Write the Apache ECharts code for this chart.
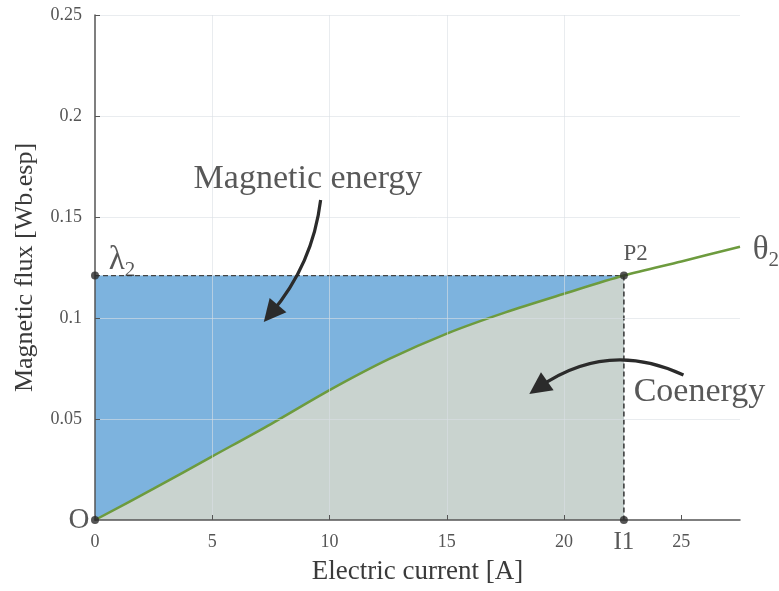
<!DOCTYPE html>
<html>
<head>
<meta charset="utf-8">
<script src="https://cdn.jsdelivr.net/npm/echarts@6/dist/echarts.min.js"></script>
<style>html,body{margin:0;padding:0;background:#fff}#c{width:779px;height:591px}</style>
</head>
<body>
<div id="c"></div>
<script>
// ---- data ----
const currentA = [0, 2.5, 5, 7.5, 10, 12.5, 15, 17.5, 20, 22.55, 25, 27.5];
const fluxWb   = [0, 0.0155, 0.0315, 0.0475, 0.0643, 0.0795, 0.0923, 0.1028, 0.112, 0.121, 0.128, 0.1353];
const lambda2 = 0.121;    // flux at P2
const I1 = 22.55;         // current at P2
const xTicks = [0, 5, 10, 15, 20, 25];
const xAxisTitle = 'Electric current [A]';
const yAxisTitle = 'Magnetic flux [Wb.esp]';
// annotation anchors (data units)
const annLabels = ['Magnetic energy', 'Coenergy', 'λ2', 'θ2', 'P2', 'O', 'I1'];
const annX = [9.08, 25.77, 1.15, 28.6, 23.05, -0.68, 22.55];
const annY = [0.1688, 0.0634, 0.1285, 0.1335, 0.1317, 0.0, -0.011];
const arrowStartX = [9.62, 25.09];
const arrowStartY = [0.1584, 0.0718];
const arrowEndX = [7.5, 18.9];
const arrowEndY = [0.1022, 0.0655];

const FONT = '"Liberation Serif", "Times New Roman", serif';
const curve = currentA.map((x, i) => [x, fluxWb[i]]);
const underCurve = curve.filter(p => p[0] <= I1);

const chart = echarts.init(document.getElementById('c'), null, {renderer: 'canvas'});

const annStyles = {
  'Magnetic energy': {fontSize: 34},
  'Coenergy': {fontSize: 34},
  'P2': {fontSize: 23},
  'O': {fontSize: 29},
  'I1': {fontSize: 25}
};
const TXT = '#2e2e2e';

function annLabel(txt) {
  if (txt === 'λ2' || txt === 'θ2') {
    return {
      show: true, position: 'inside',
      formatter: '{a|' + txt[0] + '}{s|' + txt[1] + '}',
      rich: {
        a: {fontFamily: FONT, fontSize: 33, color: TXT, lineHeight: 33, verticalAlign: 'bottom'},
        s: {fontFamily: FONT, fontSize: 21, color: TXT, lineHeight: 21, verticalAlign: 'bottom', padding: [0, 0, -4, 0]}
      }
    };
  }
  return {show: true, position: 'inside', formatter: txt,
    fontFamily: FONT, fontSize: annStyles[txt].fontSize, color: TXT};
}

const option = {
  backgroundColor: '#fff',
  animation: false,
  grid: {left: 95, right: 39, top: 15, bottom: 71, containLabel: false},
  xAxis: {
    type: 'value', min: 0, max: 27.5, interval: 5, z: 5,
    name: xAxisTitle, nameLocation: 'middle', nameGap: 38,
    nameTextStyle: {fontFamily: FONT, fontSize: 27, color: '#3a3a3a'},
    axisLine: {show: true, lineStyle: {color: '#555', width: 1.5}},
    axisTick: {show: true, inside: true, length: 5, lineStyle: {color: '#555'}, customValues: xTicks},
    axisLabel: {fontFamily: FONT, fontSize: 18, color: '#555', margin: 13, customValues: xTicks},
    splitLine: {show: true, showMinLine: false, showMaxLine: false, lineStyle: {color: 'rgba(218,224,228,0.6)', width: 1}}
  },
  yAxis: {
    type: 'value', min: 0, max: 0.25, interval: 0.05, z: 5,
    name: yAxisTitle, nameLocation: 'middle', nameGap: 57,
    nameTextStyle: {fontFamily: FONT, fontSize: 26, color: '#3a3a3a'},
    axisLine: {show: true, lineStyle: {color: '#555', width: 1.5}},
    axisTick: {show: true, inside: true, length: 5, lineStyle: {color: '#555'}},
    axisLabel: {fontFamily: FONT, fontSize: 18, color: '#555', margin: 13, showMinLabel: false,
      formatter: v => String(+v.toFixed(2))},
    splitLine: {show: true, showMinLine: false, lineStyle: {color: 'rgba(218,224,228,0.6)', width: 1}}
  },
  series: [
    { // magnetic energy region (rectangle up to lambda2; coenergy drawn over it)
      type: 'line', data: [[0, lambda2], [I1, lambda2]], symbol: 'none', z: 1,
      lineStyle: {color: '#444', width: 1.3, type: [5, 3]},
      areaStyle: {color: '#7db3de', opacity: 1}
    },
    { // coenergy region under curve
      type: 'line', data: underCurve, symbol: 'none', smooth: 0.3, z: 2,
      lineStyle: {width: 0},
      areaStyle: {color: '#c9d3cf', opacity: 1}
    },
    { // vertical dashed line at I1
      type: 'line', data: [[I1, lambda2], [I1, 0]], symbol: 'none', z: 3,
      lineStyle: {color: '#333', width: 1.5, type: [5, 3]}
    },
    { // magnetisation curve
      type: 'line', data: curve, symbol: 'none', smooth: 0.3, z: 4,
      lineStyle: {color: '#6d9b3e', width: 2.5}
    },
    { // key points
      type: 'scatter', data: [[0, 0], [0, lambda2], [I1, lambda2], [I1, 0]],
      symbol: 'circle', symbolSize: 8, itemStyle: {color: '#2a2a2a'}, z: 6, clip: false
    },
    { // arrows
      type: 'lines', coordinateSystem: 'cartesian2d', z: 7,
      symbol: ['none', 'triangle'], symbolSize: [1, 22],
      lineStyle: {color: '#2b2b2b', width: 3.2, opacity: 1},
      data: [
        {coords: [[arrowStartX[0], arrowStartY[0]], [arrowEndX[0], arrowEndY[0]]], lineStyle: {curveness: 0.15}},
        {coords: [[arrowStartX[1], arrowStartY[1]], [arrowEndX[1], arrowEndY[1]]], lineStyle: {curveness: -0.29}}
      ]
    },
    { // text annotations
      type: 'scatter', symbolSize: 0, z: 8, clip: false, silent: true,
      data: annLabels.map((t, i) => ({value: [annX[i], annY[i]], label: annLabel(t)}))
    }
  ]
};
chart.setOption(option);
</script>
</body>
</html>
